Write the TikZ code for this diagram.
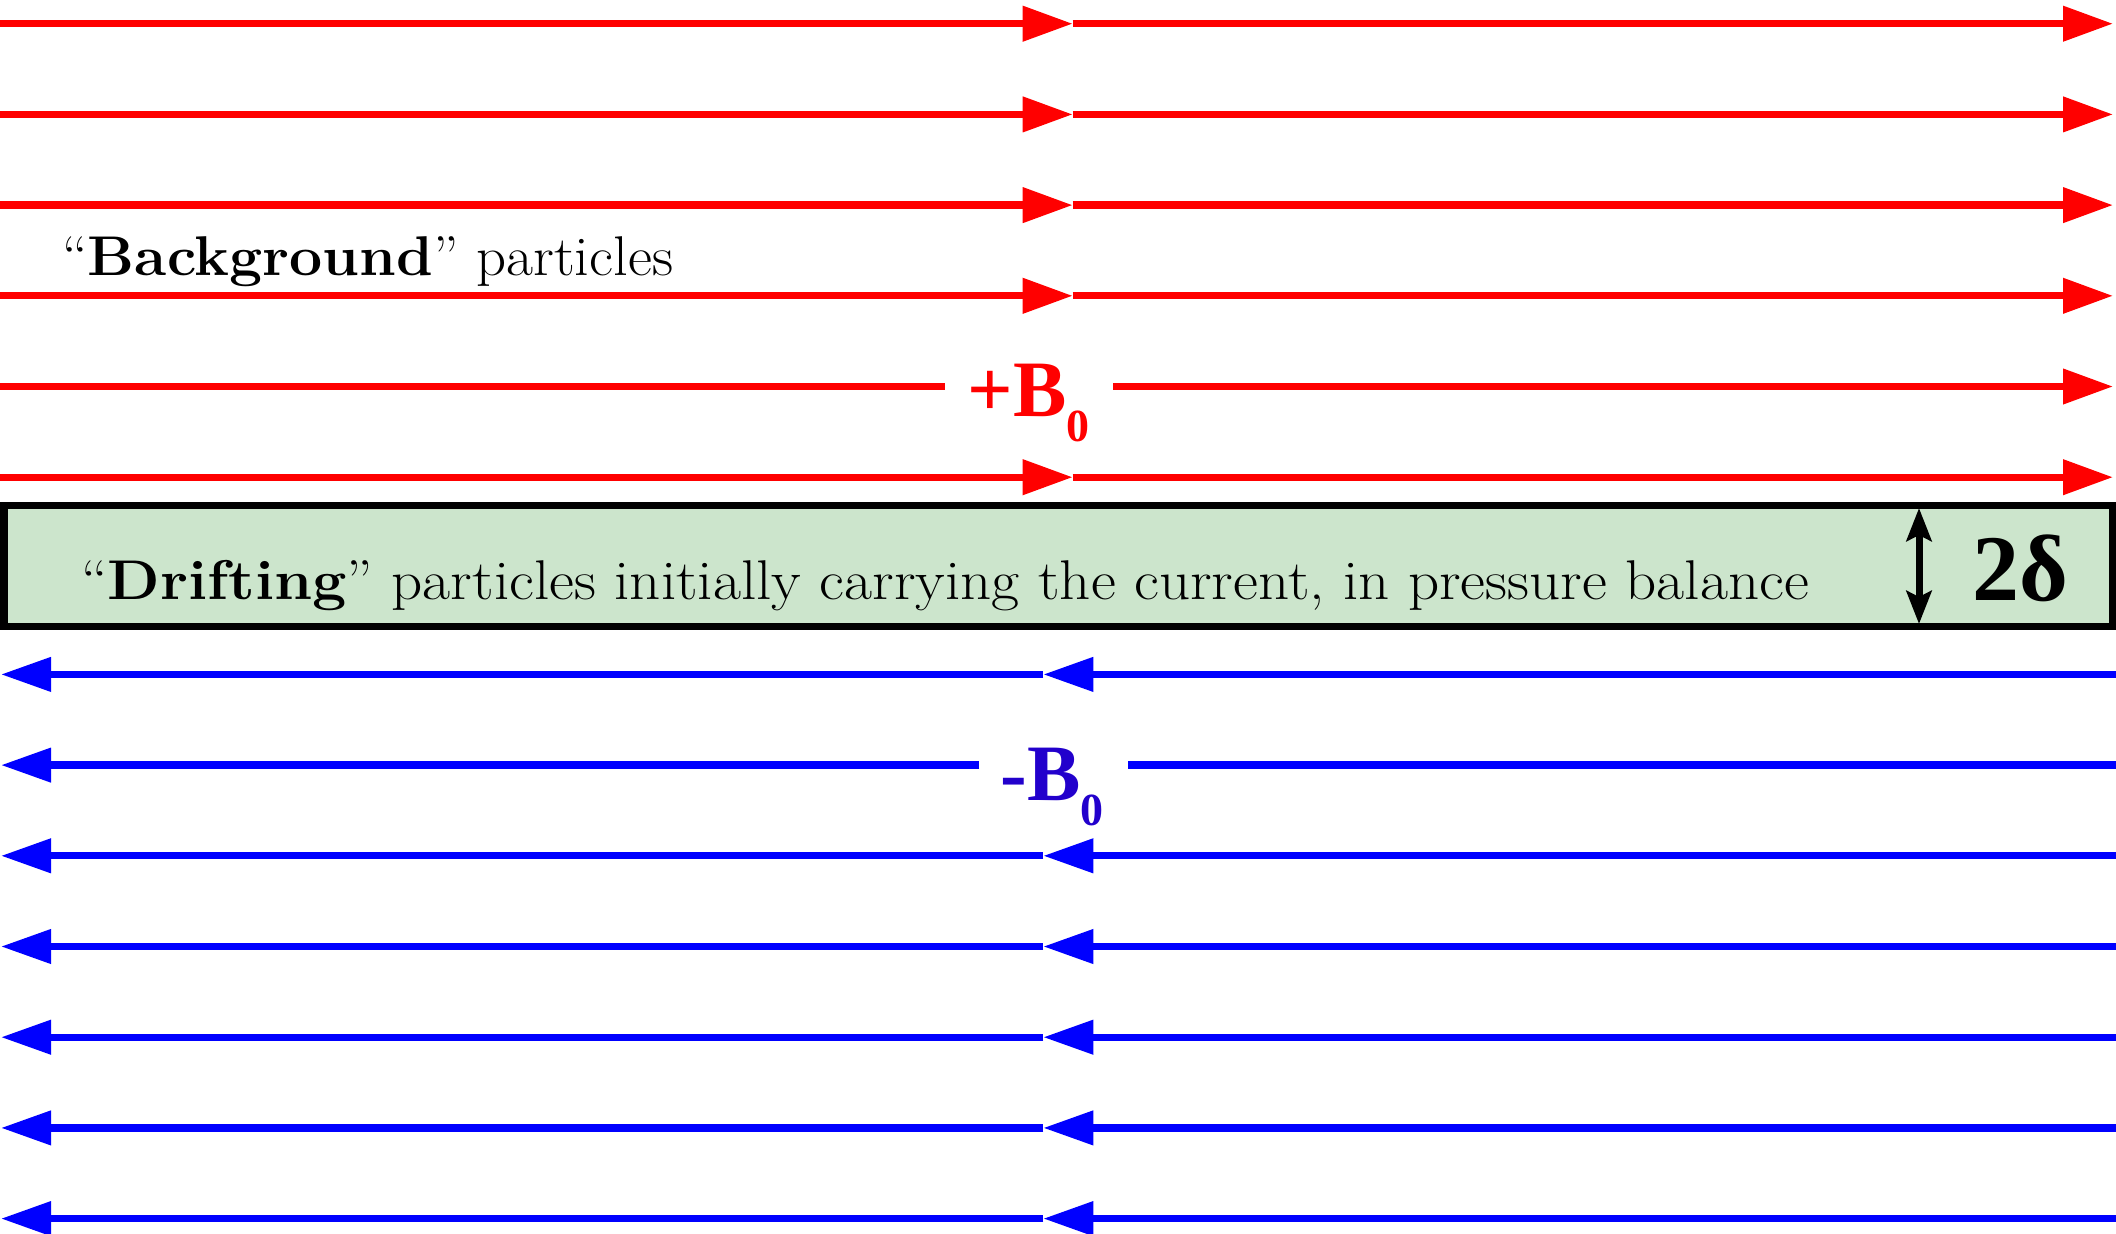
\documentclass[tikz,border=0pt]{standalone}
\usepackage{fontspec}
\usepackage{graphicx}
\usetikzlibrary{arrows.meta}
\newfontfamily\timesf{Liberation Serif}
\definecolor{fieldred}{RGB}{255,0,0}
\definecolor{fieldblue}{RGB}{0,0,255}
\definecolor{labelblue}{RGB}{34,0,204}
\definecolor{layergreen}{RGB}{204,229,204}
\tikzset{
  redline/.style={draw=fieldred, line width=3.65pt},
  blueline/.style={draw=fieldblue, line width=3.65pt},
  redtip/.style={-{Triangle[length=25pt,width=17pt]}},
  bluetip/.style={-{Triangle[length=25pt,width=16.5pt]}},
  txt/.style={inner sep=0pt, anchor=base west, font=\fontsize{28}{30}\selectfont},
  blabel/.style={inner sep=0pt, anchor=base west, font=\timesf\bfseries\fontsize{40}{40}\selectfont},
}
\newcommand{\subzero}{\raisebox{-12.5pt}{\fontsize{23}{23}\selectfont 0}}
\newcommand{\widetext}[2]{\scalebox{#1}[1]{#2}}
\begin{document}
\begin{tikzpicture}[x=0.5pt,y=-0.5pt]
\useasboundingbox (0,0) rectangle (2116,1233);
% red field lines (above the layer)
\foreach \i/\yy in {1/23.7,2/114.4,3/205.1,4/295.8,6/477.2}{
  \coordinate (rL\i) at (0,\yy);
  \coordinate (rM\i) at (1072.7,\yy);
  \coordinate (rR\i) at (2113,\yy);
  \draw[redline,redtip] (rL\i) -- (rM\i);
  \draw[redline,redtip] (rM\i) -- (rR\i);
}
% +B0 row
\coordinate (rL5) at (0,386.5);
\coordinate (rA5) at (945,386.5);
\coordinate (rB5) at (1113,386.5);
\coordinate (rR5) at (2113,386.5);
\draw[redline] (rL5) -- (rA5);
\draw[redline,redtip] (rB5) -- (rR5);
\node[blabel, text=fieldred] (plusB) at (967,416) {+B\subzero};
% blue field lines (below the layer)
\foreach \j/\yy in {1/674.4,3/855.8,4/946.5,5/1037.2,6/1127.9,7/1218.6}{
  \coordinate (bR\j) at (2116,\yy);
  \coordinate (bM\j) at (1043.3,\yy);
  \coordinate (bL\j) at (1,\yy);
  \draw[blueline,bluetip] (bR\j) -- (bM\j);
  \draw[blueline,bluetip] (bM\j) -- (bL\j);
}
% -B0 row
\coordinate (bR2) at (2116,765.1);
\coordinate (bB2) at (1127.7,765.1);
\coordinate (bA2) at (979,765.1);
\coordinate (bL2) at (1,765.1);
\draw[blueline] (bR2) -- (bB2);
\draw[blueline,bluetip] (bA2) -- (bL2);
\node[blabel, text=labelblue] (minusB) at (1000,800.7) {-B\subzero};
% current layer
\node[draw=black, fill=layergreen, line width=3.75pt, inner sep=0pt,
      minimum width=1054.6pt, minimum height=60.5pt] (layer) at (1058.4,566) {};
\node[txt] (drift) at (81,599) {\widetext{1.09}{``\textbf{Drifting}'' particles initially carrying the current, in pressure balance}};
\node[txt] (bg) at (62,275) {\widetext{1.05}{``\textbf{Background}'' particles}};
% thickness marker
\coordinate (dT) at (1919,508);
\coordinate (dB) at (1919,624);
\draw[line width=3.5pt, {Stealth[length=16.5pt,width=12.5pt,inset=3pt]}-{Stealth[length=16.5pt,width=12.5pt,inset=3pt]}] (dT) -- (dB);
\node[inner sep=0pt, anchor=base west, font=\timesf\bfseries\fontsize{47}{47}\selectfont] (delta) at (1972,600) {2δ};
\end{tikzpicture}
\end{document}
